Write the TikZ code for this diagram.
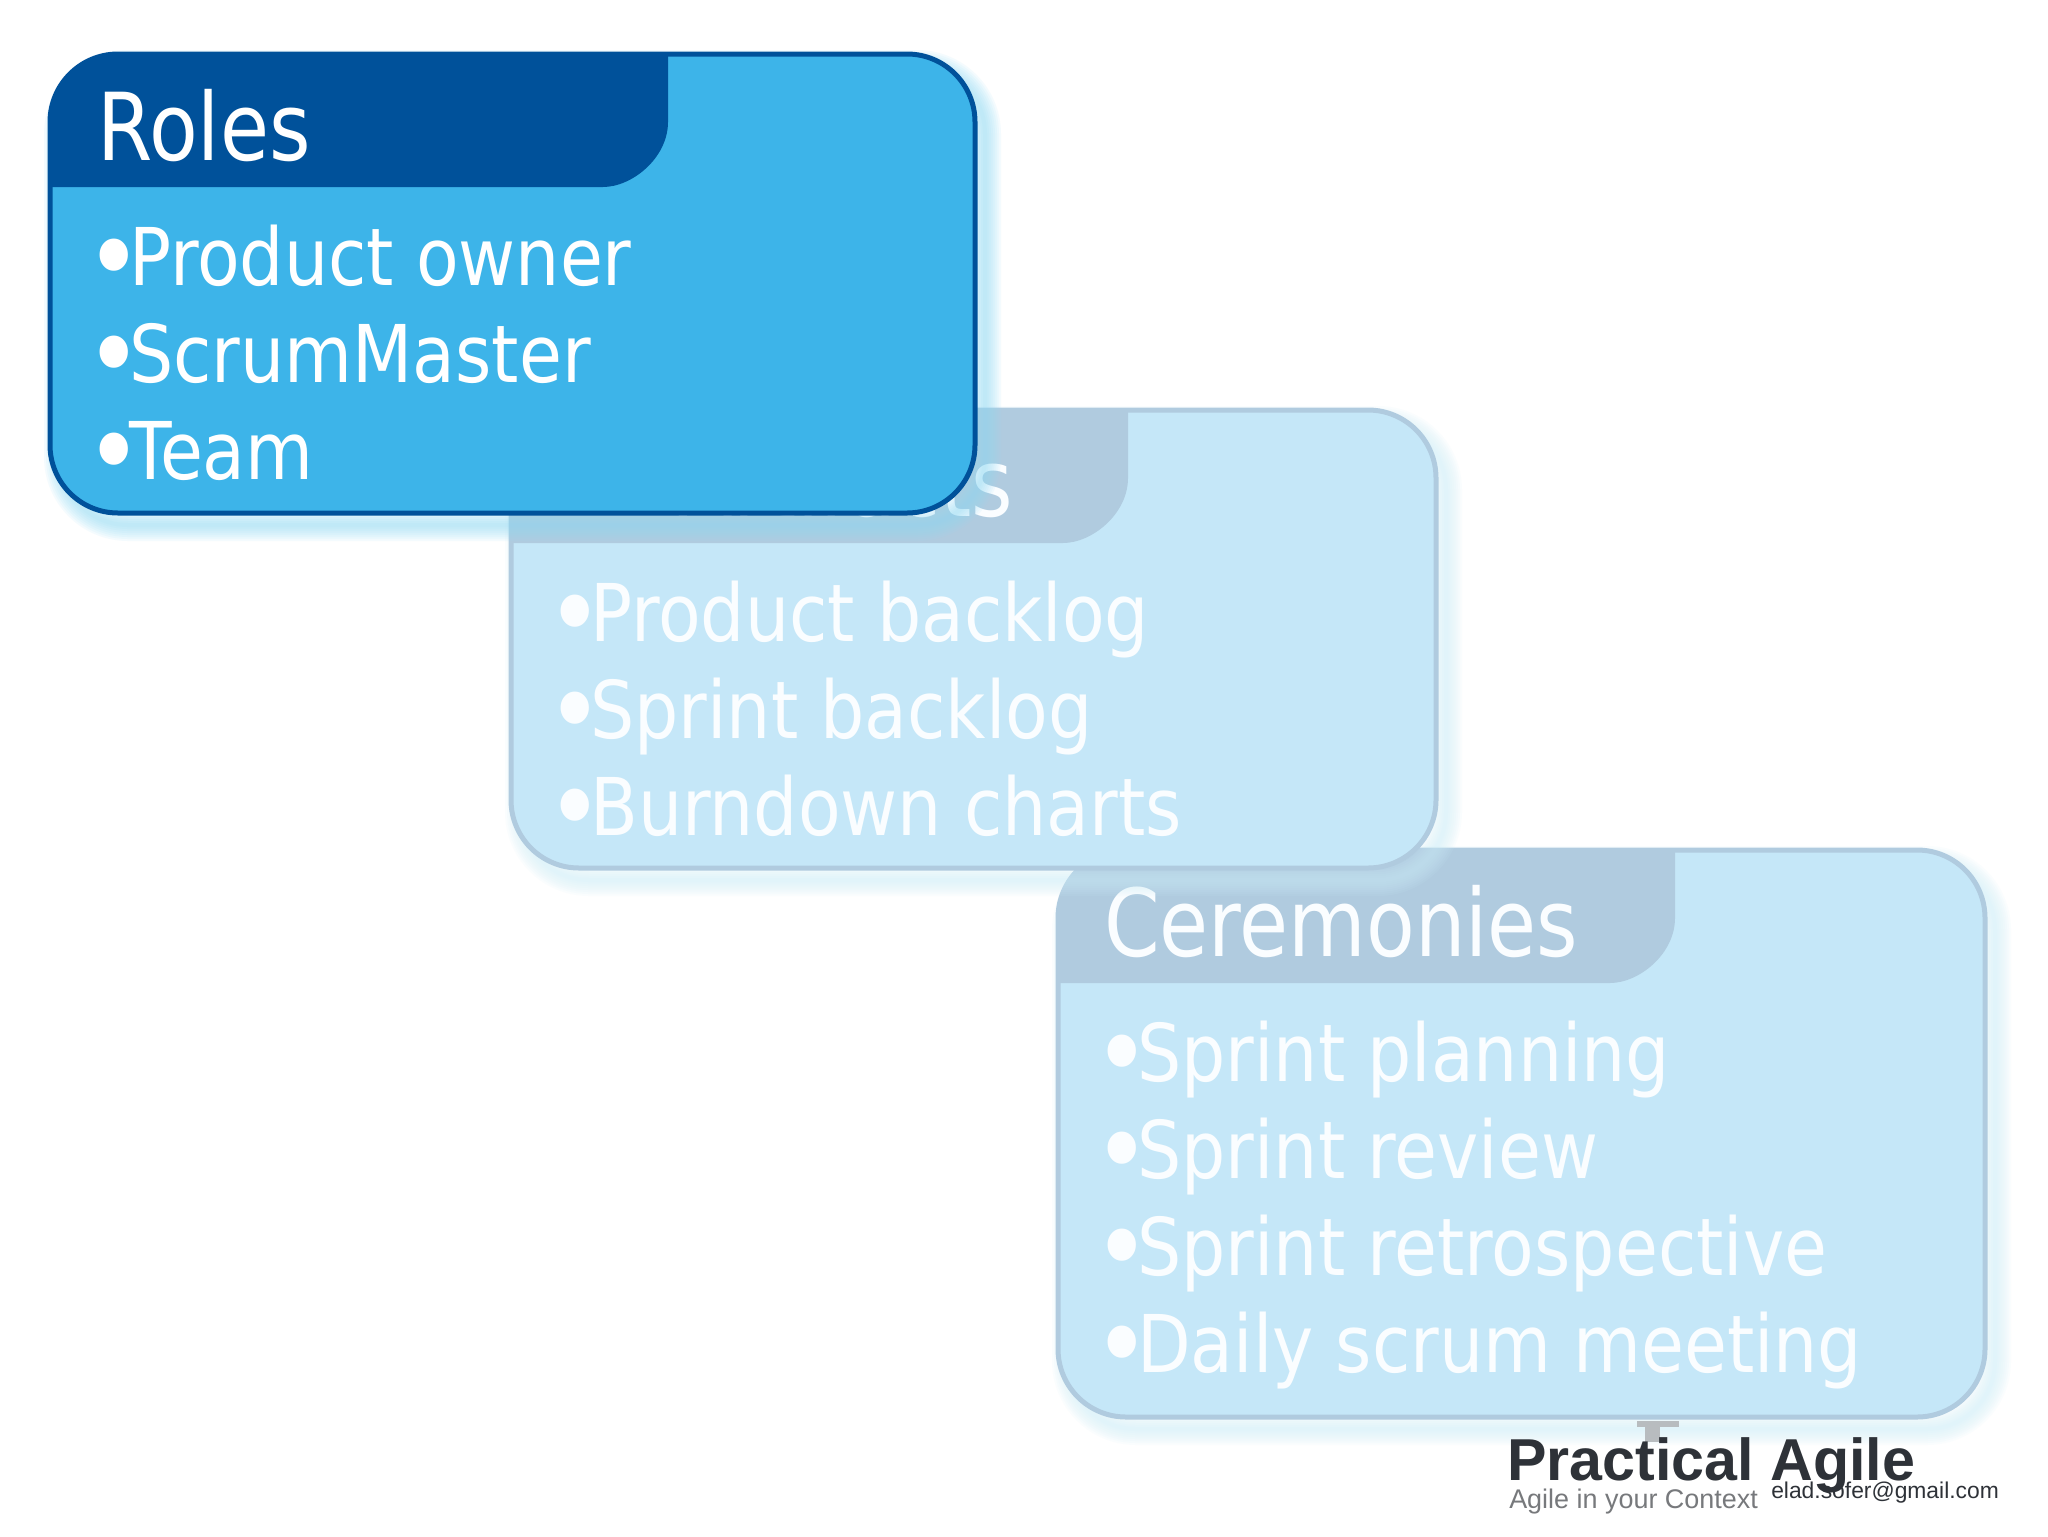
\documentclass[tikz,border=0pt]{standalone}
\usepackage{fontspec}
\setmainfont{DejaVu Sans}
\newfontfamily\headfont[FakeStretch=0.85]{DejaVu Sans}
\newfontfamily\bodyfont[FakeStretch=0.875]{DejaVu Sans}
\newfontfamily\logofont{Liberation Sans}
\definecolor{fillA}{HTML}{3DB4E9}
\definecolor{darkA}{HTML}{00519A}
\definecolor{glowA}{HTML}{8FDBF7}
\definecolor{fillB}{HTML}{C5E7F8}
\definecolor{darkB}{HTML}{B0CBDF}
\definecolor{glowB}{HTML}{CDEEFA}
\definecolor{txtB}{HTML}{FAFDFF}
\definecolor{logoDark}{HTML}{2E3238}
\definecolor{logoGray}{HTML}{77797C}
\definecolor{logoBar}{HTML}{B8BCBF}
\tikzset{
  titletext/.style={anchor=base west,inner sep=0pt,font=\headfont\fontsize{80}{90}\selectfont},
  itemtext/.style={anchor=base west,inner sep=0pt,font=\bodyfont\fontsize{68}{80}\selectfont},
}
\newcommand{\bl}{\makebox[26.5pt][l]{\kern-10.5pt\raisebox{-10pt}{\fontsize{95}{95}\selectfont •}}}
% #1 left, #2 top, #3 right, #4 bottom, #5 header right, #6 header bottom, #7 fill, #8 dark, #9 glow
\newcommand{\panelbox}[9]{%
  \foreach \w in {32,28,24,20,16,12,8,4}{%
    \draw[#9,opacity=0.09,line width=\w*0.03cm,rounded corners=2.04cm]
      (#1+10,#2+12) -- (#3+10,#2+12) -- (#3+10,#4+12) -- (#1+10,#4+12) -- cycle;}
  \fill[#7,rounded corners=2.04cm] (#1,#2) -- (#3,#2) -- (#3,#4) -- (#1,#4) -- cycle;
  \begin{scope}
    \clip[rounded corners=2.04cm] (#1,#2) -- (#3,#2) -- (#3,#4) -- (#1,#4) -- cycle;
    \fill[#8] (#1-5,#6) -- (#1-5,#2-5) -- (#5,#2-5) -- (#5,#6-65)
      .. controls (#5,#6-29) and (#5-36,#6) .. (#5-65,#6) -- cycle;
  \end{scope}
  \draw[#8,line width=0.15cm,rounded corners=2.04cm] (#1,#2) -- (#3,#2) -- (#3,#4) -- (#1,#4) -- cycle;
}
\begin{document}
\begin{tikzpicture}[x=0.03cm,y=-0.03cm]
\useasboundingbox (0,0) rectangle (2048,1536);
\fill[white] (0,0) rectangle (2048,1536);

% Ceremonies
\panelbox{1058}{850}{1985}{1417}{1675}{983}{fillB}{darkB}{glowB}
\node[titletext,text=txtB] (certitle) at (1104,956) {Ceremonies};
\node[itemtext,text=txtB] (cer1) at (1106,1081) {\bl Sprint planning};
\node[itemtext,text=txtB] (cer2) at (1106,1178) {\bl Sprint review};
\node[itemtext,text=txtB] (cer3) at (1106,1275) {\bl Sprint retrospective};
\node[itemtext,text=txtB] (cer4) at (1106,1372) {\bl Daily scrum meeting};

% Artifacts
\panelbox{511}{410}{1436}{868}{1128}{543}{fillB}{darkB}{glowB}
\node[titletext,anchor=base east,text=txtB] (arttitle) at (1013,516) {Artifacts};
\node[itemtext,text=txtB] (art1) at (559,641) {\bl Product backlog};
\node[itemtext,text=txtB] (art2) at (559,738) {\bl Sprint backlog};
\node[itemtext,text=txtB] (art3) at (559,835) {\bl Burndown charts};

% Roles
\panelbox{50}{54}{975}{513}{668}{187}{fillA}{darkA}{glowA}
\node[titletext,text=white] (roltitle) at (97,160) {Roles};
\node[itemtext,text=white] (rol1) at (98,285) {\bl Product owner};
\node[itemtext,text=white] (rol2) at (98,382) {\bl ScrumMaster};
\node[itemtext,text=white] (rol3) at (98,479) {\bl Team};

% Logo
\fill[logoBar] (1637,1421) rectangle (1679,1427);
\fill[logoBar] (1645,1421) rectangle (1660,1442);
\node[anchor=base west,inner sep=0pt,text=logoDark,font=\logofont\bfseries\fontsize{50.5}{56}\selectfont] (logomain) at (1507,1480) {Practical Agile};
\node[anchor=base west,inner sep=0pt,text=logoGray,font=\logofont\fontsize{23}{26}\selectfont] (logosub) at (1509,1508) {Agile in your Context};
\node[anchor=base west,inner sep=0pt,text=logoDark,font=\logofont\fontsize{19.5}{24}\selectfont] (email) at (1771,1498) {elad.sofer@gmail.com};
\end{tikzpicture}
\end{document}
